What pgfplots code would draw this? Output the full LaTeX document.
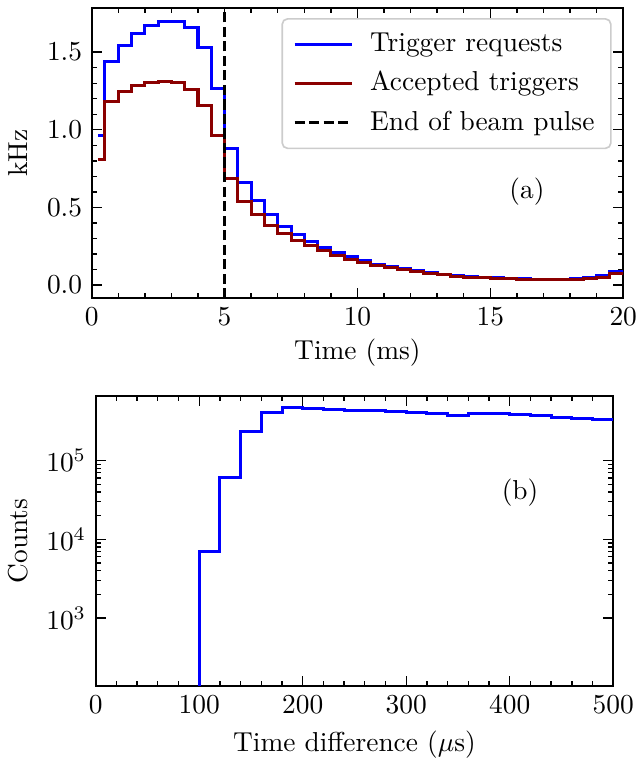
\documentclass[border=0pt]{standalone}
\usepackage{pgfplots}
\pgfplotsset{compat=1.18}
\definecolor{mplblue}{RGB}{0,0,255}
\definecolor{mpldarkred}{RGB}{139,0,0}
\pgfplotsset{
  mystyle/.style={
    scale only axis,
    anchor=south west,
    tick align=inside,
    major tick length=3.6pt,
    minor tick length=1.8pt,
    axis line style={line width=0.6pt},
    every tick/.style={black, line width=0.5pt},
    clip=true,
  }
}
\begin{document}
\begin{tikzpicture}
\useasboundingbox (0pt,0pt) rectangle (232.87pt,278.13pt);
% ---------------- top panel ----------------
\begin{axis}[mystyle,
  width=194.0pt, height=106.0pt, at={(33.47pt,169.25pt)},
  xmin=0, xmax=20, ymin=-0.085, ymax=1.785,
  xtick={0,5,10,15,20}, ytick={0,0.5,1,1.5},
  minor x tick num=4, minor y tick num=4,
  yticklabel style={/pgf/number format/fixed,/pgf/number format/fixed zerofill,/pgf/number format/precision=1},
  xlabel={Time (ms)}, ylabel={kHz},
  xlabel style={at={(axis description cs:0.5,-0.188)}, anchor=center},
  ylabel style={at={(axis description cs:-0.139,0.5)}, anchor=center, rotate=0},
  legend style={at={(1,1)}, anchor=north east, xshift=-4.2pt, yshift=-3.7pt,
    draw=black!20, rounded corners=2pt, line width=0.6pt, fill=white,
    inner xsep=4pt, inner ysep=2.8pt, row sep=0.9pt, column sep=4pt, font=\normalsize,
    nodes={inner xsep=2pt, inner ysep=2.4pt}},
  legend cell align=left,
  legend image code/.code={\draw[#1] (0pt,0pt) -- (21pt,0pt);},
]
\addplot[const plot mark mid, mplblue, line width=1.1pt] coordinates {
(0.25,0.966) (0.75,1.438) (1.25,1.545) (1.75,1.620) (2.25,1.674) (2.75,1.696)
(3.25,1.700) (3.75,1.659) (4.25,1.528) (4.75,1.266) (5.25,0.878) (5.75,0.663)
(6.25,0.545) (6.75,0.453) (7.25,0.380) (7.75,0.326) (8.25,0.279) (8.75,0.243)
(9.25,0.211) (9.75,0.182) (10.25,0.156) (10.75,0.135) (11.25,0.118) (11.75,0.104)
(12.25,0.091) (12.75,0.078) (13.25,0.069) (13.75,0.061) (14.25,0.054) (14.75,0.050)
(15.25,0.046) (15.75,0.043) (16.25,0.041) (16.75,0.039) (17.25,0.038) (17.75,0.038)
(18.25,0.040) (18.75,0.046) (19.25,0.062) (19.75,0.088) (20.25,0.088)
};
\addlegendentry{Trigger requests}
\addplot[const plot mark mid, mpldarkred, line width=1.1pt] coordinates {
(0.25,0.809) (0.75,1.180) (1.25,1.245) (1.75,1.283) (2.25,1.305) (2.75,1.314)
(3.25,1.303) (3.75,1.262) (4.25,1.159) (4.75,0.966) (5.25,0.685) (5.75,0.541)
(6.25,0.455) (6.75,0.386) (7.25,0.333) (7.75,0.290) (8.25,0.253) (8.75,0.221)
(9.25,0.193) (9.75,0.167) (10.25,0.146) (10.75,0.127) (11.25,0.111) (11.75,0.099)
(12.25,0.087) (12.75,0.075) (13.25,0.066) (13.75,0.058) (14.25,0.052) (14.75,0.047)
(15.25,0.043) (15.75,0.041) (16.25,0.039) (16.75,0.037) (17.25,0.036) (17.75,0.036)
(18.25,0.037) (18.75,0.040) (19.25,0.051) (19.75,0.073) (20.25,0.073)
};
\addlegendentry{Accepted triggers}
\addplot[black, line width=1.1pt, dash pattern=on 3.7pt off 1.6pt] coordinates {(5,-0.085) (5,1.785)};
\addlegendentry{End of beam pulse}
\node at (rel axis cs:0.819,0.366) {(a)};
\end{axis}
% ---------------- bottom panel ----------------
\begin{axis}[mystyle,
  width=188.9pt, height=105.7pt, at={(34.93pt,27.85pt)},
  xmin=0, xmax=500, ymode=log, ymin=138, ymax=6.6e5,
  xtick={0,100,200,300,400,500}, minor x tick num=4,
  ytick={1e3,1e4,1e5},
  xlabel={Time difference ($\mu$s)}, ylabel={Counts},
  xlabel style={at={(axis description cs:0.5,-0.205)}, anchor=center},
  ylabel style={at={(axis description cs:-0.150,0.5)}, anchor=center},
]
\addplot[const plot, mplblue, line width=1.1pt] coordinates {
(80,1) (100,7000) (120,61500) (140,234000) (160,405000) (180,473000)
(200,460000) (220,452000) (240,436000) (260,430000) (280,417000) (300,405000)
(320,394000) (340,374000) (360,397000) (380,393000) (400,382000) (420,371000)
(440,357000) (460,343000) (480,337000) (500,337000)
};
\node at (rel axis cs:0.820,0.665) {(b)};
\end{axis}
\end{tikzpicture}
\end{document}
